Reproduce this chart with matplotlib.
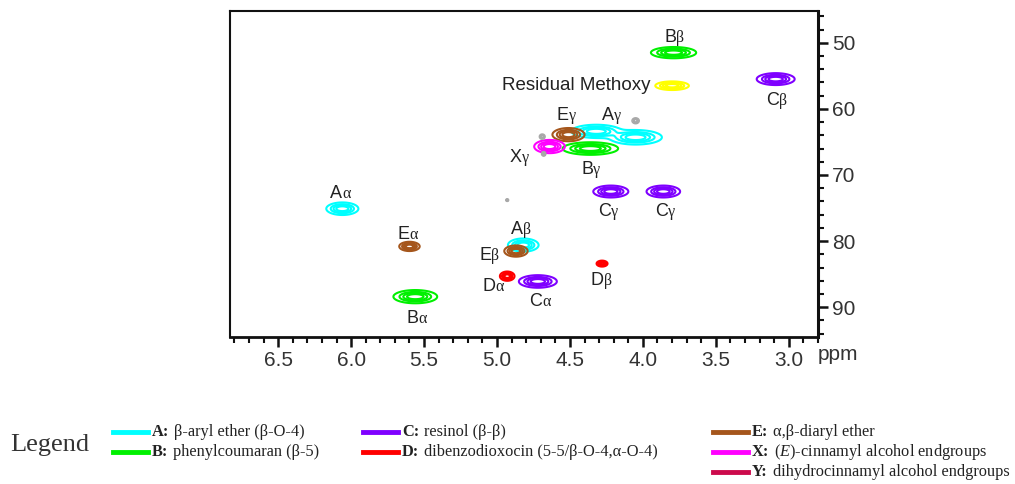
import numpy as np
import matplotlib
matplotlib.use("Agg")
import matplotlib.pyplot as plt
import matplotlib.transforms as mtransforms
from matplotlib.lines import Line2D
from matplotlib.ticker import MultipleLocator

plt.rcParams["mathtext.fontset"] = "custom"
plt.rcParams["mathtext.rm"] = "Liberation Serif"
plt.rcParams["mathtext.bf"] = "Liberation Serif:bold"
plt.rcParams["mathtext.it"] = "Liberation Serif:italic"

# Cross-peak table: 1H shift, 13C shift, outer-contour width (1H ppm) and height (13C ppm)
peak_group = ["A", "A", "A", "A",
              "B", "B", "B",
              "C", "C", "C", "C",
              "D", "D",
              "E", "E", "E",
              "X", "OMe", "U", "U", "U", "U"]
peak_h = [6.06, 4.82, 4.32, 4.05,
          5.56, 3.79, 4.36,
          4.72, 3.09, 4.22, 3.86,
          4.93, 4.28,
          5.60, 4.87, 4.51,
          4.64, 3.80, 4.05, 4.93, 4.69, 4.68]
peak_c = [75.1, 80.6, 63.4, 64.3,
          88.4, 51.5, 66.0,
          86.1, 55.5, 72.5, 72.5,
          85.3, 83.4,
          80.8, 81.5, 63.9,
          65.7, 56.5, 61.8, 73.8, 64.2, 66.8]
peak_dh = [0.22, 0.21, 0.34, 0.36,
           0.30, 0.31, 0.38,
           0.26, 0.26, 0.24, 0.23,
           0.10, 0.075,
           0.14, 0.16, 0.22,
           0.21, 0.23, 0.05, 0.02, 0.04, 0.03]
peak_dc = [1.9, 2.0, 2.0, 2.2,
           2.0, 1.7, 1.9,
           1.9, 1.8, 1.8, 1.8,
           1.4, 0.9,
           1.4, 1.7, 2.0,
           2.0, 1.3, 0.9, 0.4, 0.8, 0.7]

# Drawing order and colours of the substructure groups
group_order = ["A", "B", "C", "OMe", "D", "E", "X", "U"]
group_color = {"A": "#00FFFF", "B": "#00F000", "C": "#7F00FF", "D": "#FF0000",
               "E": "#A5561C", "X": "#FF00FF", "Y": "#CC0A4C",
               "OMe": "#FFFF00", "U": "#A8A8A8"}

# Peak annotations (letter, greek position, 1H, 13C of label centre)
label_letter = ["B", "C", "A", "E", "X", "B", "A", "C", "C", "E", "A", "E", "D", "D", "C", "B"]
label_greek = ["β", "β", "γ", "γ", "γ", "γ", "α", "γ", "γ", "α", "β", "β", "α", "β", "α", "α"]
label_h = [3.77, 3.07, 4.20, 4.51, 4.83, 4.34, 6.06, 4.22, 3.83, 5.60, 4.82, 5.04, 5.01, 4.27, 4.69, 5.54]
label_c = [48.9, 58.4, 60.7, 60.7, 67.1, 68.9, 72.5, 75.2, 75.2, 78.7, 78.0, 81.9, 86.6, 85.7, 88.8, 91.4]

# Legend entries
legend_keys = ["A", "B", "C", "D", "E", "X", "Y"]
legend_texts = ["β-aryl ether (β-O-4)",
                "phenylcoumaran (β-5)",
                "resinol (β-β)",
                "dibenzodioxocin (5-5/β-O-4,α-O-4)",
                "α,β-diaryl ether",
                r"($\mathit{E}$)-cinnamyl alcohol endgroups",
                "dihydrocinnamyl alcohol endgroups"]

fig = plt.figure(figsize=(10.15, 4.84), dpi=100)
ax = fig.add_axes([0.2266, 0.3037, 0.5793, 0.6736])

xlim = (6.83, 2.80)
ylim = (94.5, 45.2)

gx = np.linspace(xlim[1], xlim[0], 1400)
gy = np.linspace(ylim[1], ylim[0], 900)
GX, GY = np.meshgrid(gx, gy)
outer = 0.1
k = 2.0 * np.sqrt(2.0 * np.log(1.0 / outer))
levels = [0.1, 0.3, 0.5, 0.72]

for g in group_order:
    Z = np.zeros_like(GX)
    for grp, h, c, dh, dc in zip(peak_group, peak_h, peak_c, peak_dh, peak_dc):
        if grp != g:
            continue
        sx = dh / k
        sy = dc / k
        Z += np.exp(-0.5 * ((GX - h) / sx) ** 2 - 0.5 * ((GY - c) / sy) ** 2)
    lw = 1.0 if g == "U" else 1.5
    ax.contour(GX, GY, Z, levels=levels, colors=group_color[g], linewidths=lw)

ax.set_xlim(*xlim)
ax.set_ylim(*ylim)

# Peak labels: Latin letter in sans-serif, greek suffix in serif
base = mtransforms.offset_copy(ax.transData, fig=fig, y=-4.7, units="points")
for L, G, h, c in zip(label_letter, label_greek, label_h, label_c):
    ax.text(h, c, L, transform=base, ha="right", va="baseline",
            family="Liberation Sans", fontsize=13, color="#222222")
    ax.text(h, c, G, transform=base, ha="left", va="baseline",
            family="Liberation Serif", fontsize=11.5, color="#222222")
ax.text(3.95, 56.5, "Residual Methoxy", ha="right", va="center",
        family="Liberation Sans", fontsize=13.5, color="#222222")

# Axes styling
ax.yaxis.tick_right()
ax.xaxis.set_major_locator(MultipleLocator(0.5))
ax.xaxis.set_minor_locator(MultipleLocator(0.1))
ax.yaxis.set_major_locator(MultipleLocator(10))
ax.yaxis.set_minor_locator(MultipleLocator(2))
ax.set_xticks([6.5, 6.0, 5.5, 5.0, 4.5, 4.0, 3.5, 3.0])
ax.set_xticklabels(["6.5", "6.0", "5.5", "5.0", "4.5", "4.0", "3.5", "3.0"])
ax.tick_params(which="major", direction="out", length=7, width=1.8, pad=3,
               labelsize=15, colors="#111111", labelcolor="#333333")
ax.tick_params(which="minor", direction="out", length=4, width=1.5, colors="#111111")
ax.tick_params(axis="y", which="both", left=False, right=True)
ax.tick_params(axis="x", which="both", top=False, bottom=True)
for lab in ax.get_xticklabels() + ax.get_yticklabels():
    lab.set_family("Liberation Sans")
for side, lw in zip(["left", "top", "right", "bottom"], [1.5, 1.5, 2.2, 2.0]):
    ax.spines[side].set_linewidth(lw)
    ax.spines[side].set_color("#111111")
ax.text(1.0, -0.026, "ppm", transform=ax.transAxes, ha="left", va="top",
        family="Liberation Sans", fontsize=15, color="#333333")

# Legend block below the spectrum
fig.text(10 / 1015, 1 - 445 / 484, "Legend", ha="left", va="center",
         family="Liberation Serif", fontsize=19, color="#333333")
col_x = [113, 363, 713]
row_y = [432, 452, 472]
slots = [(0, 0), (0, 1), (1, 0), (1, 1), (2, 0), (2, 1), (2, 2)]
for key, txt, (ci, ri) in zip(legend_keys, legend_texts, slots):
    x0 = col_x[ci] / 1015
    x1 = (col_x[ci] + 35) / 1015
    yy = 1 - row_y[ri] / 484
    fig.add_artist(Line2D([x0, x1], [yy, yy], color=group_color[key], lw=3.5,
                          transform=fig.transFigure))
    head = fig.text(x1 + 4 / 1015, yy, key + ":", ha="left", va="center",
                    family="Liberation Serif", weight="bold", fontsize=11.8,
                    color="#222222")
    fig.add_artist(plt.Annotation(txt, xy=(1, 0.5), xycoords=head,
                                  xytext=(3.5, 0), textcoords="offset points",
                                  ha="left", va="center", family="Liberation Serif",
                                  fontsize=11.8, color="#222222"))

fig.savefig("out.png", dpi=100)
